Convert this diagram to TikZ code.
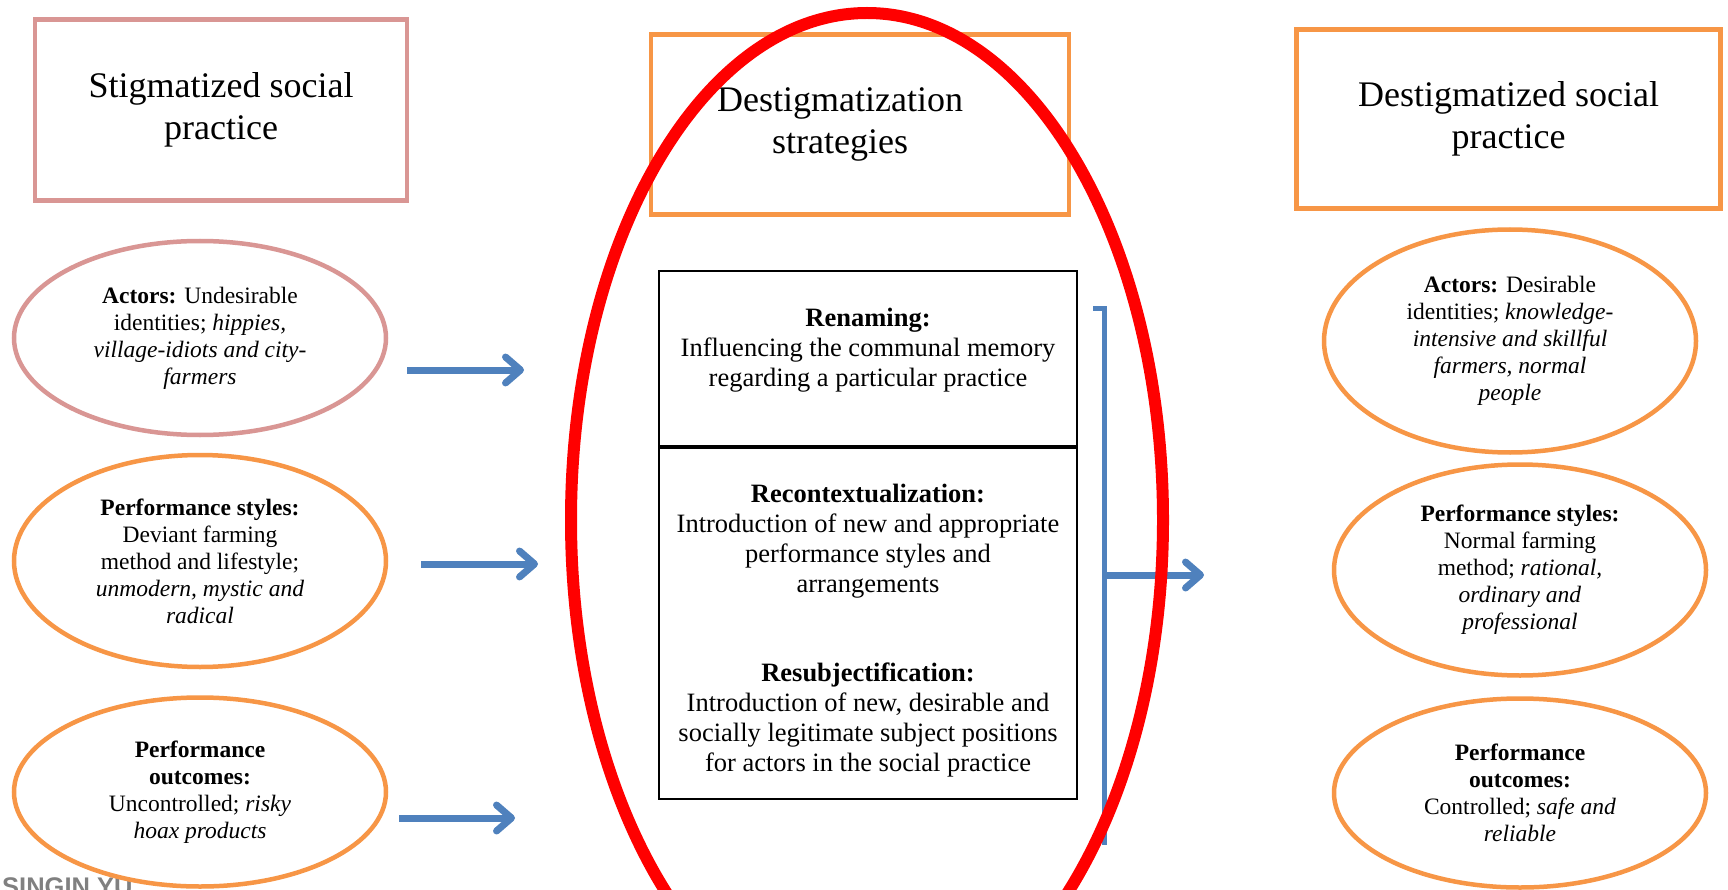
\documentclass[tikz,border=0pt]{standalone}
\usepackage{fontspec}
\setmainfont{Liberation Serif}
\setsansfont{Liberation Sans}
\usepackage{tikz}
\usetikzlibrary{shapes.geometric}
\usetikzlibrary{arrows.meta}
\definecolor{pinkline}{HTML}{D99694}
\definecolor{orangeline}{HTML}{F79646}
\definecolor{blueline}{HTML}{4F81BD}

\begin{document}
\begin{tikzpicture}[x=1pt,y=-1pt,
    headbox/.style={draw,line width=4.5pt,align=center,font=\fontsize{36}{42}\selectfont},
    oval/.style={ellipse,draw=orangeline,fill=white,line width=4.5pt,inner sep=0pt,minimum width=372pt,align=center,font=\fontsize{23.5}{27}\selectfont},
    stratbox/.style={draw,line width=1.5pt,minimum width=418pt,align=center,font=\fontsize{26.5}{30}\selectfont},
    flow/.style={blueline,line width=7pt,-{Straight Barb[length=15pt,width=26pt,round]}}]
  \clip (0,0) rectangle (1728,890);
  \fill[white] (0,0) rectangle (1728,890);
  \node[gray,font=\sffamily\bfseries\fontsize{25.5}{25.5}\selectfont,anchor=base west,inner sep=0pt] (mark) at (2,895) {SINGIN YU};
  % the three headings
  \node[headbox,draw=pinkline,minimum width=372pt,minimum height=181pt] (stig) at (221,110) {Stigmatized social\\practice};
  \node[headbox,draw=orangeline,minimum width=418pt,minimum height=180pt] (strat) at (860,124.5) {Destigmatization\hspace*{40pt}\\strategies\hspace*{40pt}};
  \node[headbox,draw=orangeline,minimum width=424pt,minimum height=179pt] (destig) at (1508.5,119) {Destigmatized social\\practice};
  % left column
  \node[oval,draw=pinkline,minimum height=194pt] (actL) at (200,338) {\textbf{Actors:} Undesirable\\identities; \textit{hippies,}\\\textit{village-idiots and city-}\\\textit{farmers}};
  \node[oval,minimum height=212pt] (perfL) at (200,561) {\textbf{Performance styles:}\\Deviant farming\\method and lifestyle;\\\textit{unmodern, mystic and}\\\textit{radical}};
  \node[oval,minimum height=189pt] (outL) at (200,792) {\textbf{Performance}\\\textbf{outcomes:}\\Uncontrolled; \textit{risky}\\\textit{hoax products}};
  % right column
  \node[oval,minimum height=223pt] (actR) at (1510,341) {\textbf{Actors:} Desirable\\identities; \textit{knowledge-}\\\textit{intensive and skillful}\\\textit{farmers, normal}\\\textit{people}};
  \node[oval,minimum height=211pt] (perfR) at (1520,570) {\textbf{Performance styles:}\\Normal farming\\method; \textit{rational,}\\\textit{ordinary and}\\\textit{professional}};
  \node[oval,minimum height=189pt] (outR) at (1520,793) {\textbf{Performance}\\\textbf{outcomes:}\\Controlled; \textit{safe and}\\\textit{reliable}};
  % strategies
  \node[stratbox,minimum height=175pt] (ren) at (868,358.5) {\textbf{Renaming:}\\Influencing the communal memory\\regarding a particular practice\rule[-22pt]{0pt}{1pt}};
  \node[stratbox,minimum height=351pt] (rec) at (868,623.5) {\rule{0pt}{32pt}\textbf{Recontextualization:}\\Introduction of new and appropriate\\performance styles and\\arrangements\\[59pt]\textbf{Resubjectification:}\\Introduction of new, desirable and\\socially legitimate subject positions\\for actors in the social practice};
  % arrows
  \foreach \y/\xa/\xb [count=\i] in {370/407/524, 564/421/538, 818/399/515}{
    \coordinate (s\i) at (\xa,\y);
    \coordinate (t\i) at (\xb,\y);
    \draw[flow] (s\i) -- (t\i);
  }
  \coordinate (btop) at (1104,309);
  \coordinate (bmid) at (1104,575);
  \coordinate (bbot) at (1104,845);
  \coordinate (t4) at (1204,575);
  \draw[blueline,line width=5pt] ([xshift=-11pt]btop) -- (btop) -- (bbot);
  \draw[flow] (bmid) -- (t4);
  \draw[red,line width=12pt] (867,520) ellipse [x radius=296,y radius=507];
\end{tikzpicture}
\end{document}
